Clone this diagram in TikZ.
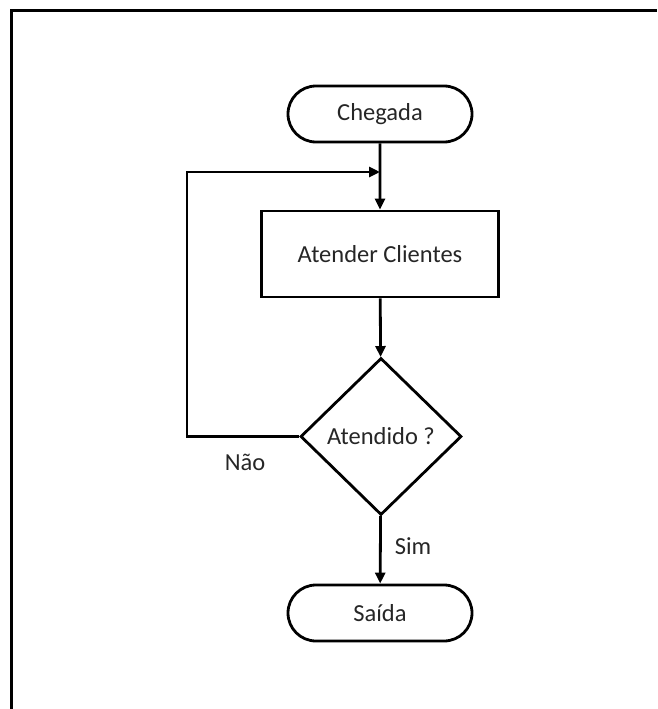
\documentclass[tikz,border=0pt]{standalone}
\usepackage{fontspec}
\setmainfont{Carlito}
\usetikzlibrary{shapes.geometric,shapes.misc,arrows.meta}
\begin{document}
\begin{tikzpicture}[x=1pt,y=-1pt,
  line width=2.8pt,
  terminal/.style={draw, rounded rectangle, minimum width=184pt, minimum height=56pt, inner sep=0pt},
  process/.style={draw, rectangle, minimum width=237pt, minimum height=86pt, inner sep=0pt},
  decision/.style={draw, diamond, minimum width=161pt, minimum height=157pt, inner sep=0pt},
  flow/.style={-{Triangle[length=11pt,width=10pt]}},
  every node/.append style={font=\fontsize{24.5pt}{28pt}\selectfont, text=black!85}]
  \useasboundingbox (0,0) rectangle (657,709);
  % open frame: top and left edges only
  \draw[line width=3pt] (11,709) -- (11,11) -- (657,11);

  \node[terminal] (start) at (380,114) {Chegada};
  \node[process] (serve) at (380,254) {Atender Clientes};
  \node[decision] (check) at (381,436.5) {Atendido ?};
  \node[terminal] (exit) at (380,613) {Saída};

  \coordinate (corner) at (187,436.5);
  \coordinate (top) at (187,172);
  \coordinate (join) at (380,172);

  \draw[flow] (start) -- (serve);
  \draw[flow] (serve) -- (check);
  \draw[flow] (check.west) -- (corner) -- (top) -- (join);
  \draw[flow] (check) -- (exit);
  \node (yes) at (413,546) {Sim};
  \node (no) at (245,462) {Não};
\end{tikzpicture}
\end{document}
